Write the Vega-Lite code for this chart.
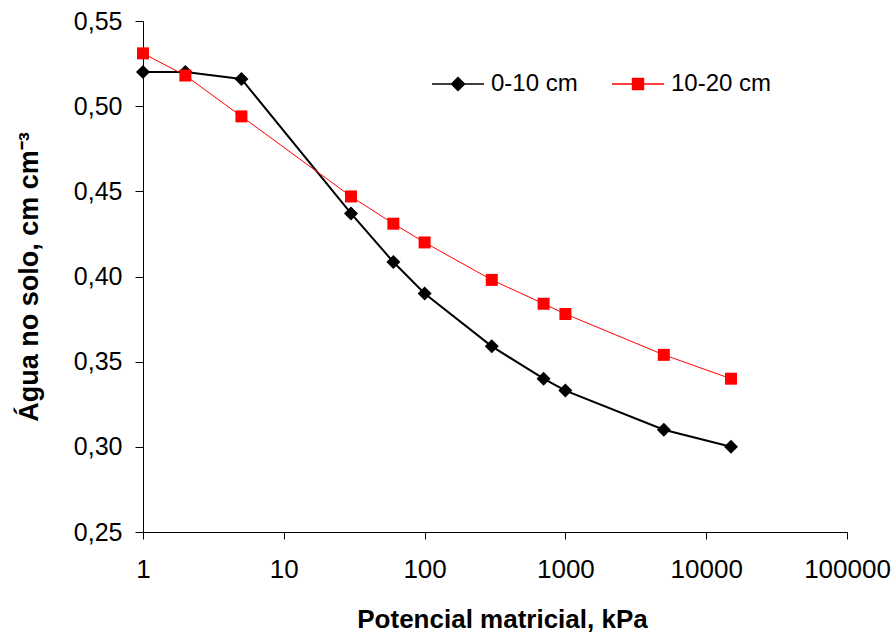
{
  "$schema": "https://vega.github.io/schema/vega-lite/v6.json",
  "width": 704,
  "height": 511,
  "autosize": "none",
  "padding": {"left": 143, "top": 21, "right": 47, "bottom": 101},
  "background": "white",
  "config": {"view": {"stroke": null}, "font": "Liberation Sans"},
  "data": {
    "values": [
      {"series": "0-10 cm", "kPa": 1, "agua": 0.520},
      {"series": "0-10 cm", "kPa": 2, "agua": 0.520},
      {"series": "0-10 cm", "kPa": 5, "agua": 0.516},
      {"series": "0-10 cm", "kPa": 30, "agua": 0.437},
      {"series": "0-10 cm", "kPa": 60, "agua": 0.4085},
      {"series": "0-10 cm", "kPa": 100, "agua": 0.390},
      {"series": "0-10 cm", "kPa": 300, "agua": 0.359},
      {"series": "0-10 cm", "kPa": 700, "agua": 0.340},
      {"series": "0-10 cm", "kPa": 1000, "agua": 0.333},
      {"series": "0-10 cm", "kPa": 5000, "agua": 0.310},
      {"series": "0-10 cm", "kPa": 15000, "agua": 0.300},
      {"series": "10-20 cm", "kPa": 1, "agua": 0.531},
      {"series": "10-20 cm", "kPa": 2, "agua": 0.518},
      {"series": "10-20 cm", "kPa": 5, "agua": 0.494},
      {"series": "10-20 cm", "kPa": 30, "agua": 0.447},
      {"series": "10-20 cm", "kPa": 60, "agua": 0.431},
      {"series": "10-20 cm", "kPa": 100, "agua": 0.420},
      {"series": "10-20 cm", "kPa": 300, "agua": 0.398},
      {"series": "10-20 cm", "kPa": 700, "agua": 0.384},
      {"series": "10-20 cm", "kPa": 1000, "agua": 0.378},
      {"series": "10-20 cm", "kPa": 5000, "agua": 0.354},
      {"series": "10-20 cm", "kPa": 15000, "agua": 0.340}
    ]
  },
  "encoding": {
    "x": {
      "field": "kPa",
      "type": "quantitative",
      "scale": {"type": "log", "domain": [1, 100000], "nice": false},
      "axis": {
        "values": [1, 10, 100, 1000, 10000, 100000],
        "format": "d",
        "grid": false,
        "domainColor": "#000000",
        "tickColor": "#000000",
        "tickSize": 7,
        "labelPadding": 17,
        "labelFontSize": 26,
        "labelColor": "#000000",
        "labelFlush": false,
        "labelOverlap": false,
        "title": "Potencial matricial, kPa",
        "titleFontSize": 26,
        "titleFontWeight": "bold",
        "titleColor": "#000000",
        "titleX": 359,
        "titleY": 87,
        "titleBaseline": "middle",
        "titleAlign": "center"
      }
    },
    "y": {
      "field": "agua",
      "type": "quantitative",
      "scale": {"domain": [0.25, 0.55], "nice": false, "zero": false},
      "axis": {
        "values": [0.25, 0.3, 0.35, 0.4, 0.45, 0.5, 0.55],
        "labelExpr": "replace(format(datum.value, '.2f'), '.', ',')",
        "grid": false,
        "domainColor": "#000000",
        "tickColor": "#000000",
        "tickSize": 8,
        "labelPadding": 13,
        "labelFontSize": 25,
        "labelColor": "#000000",
        "labelOverlap": false,
        "title": "Água no solo, cm cm⁻³",
        "titleFontSize": 27,
        "titleFontWeight": "bold",
        "titleColor": "#000000",
        "titleAngle": -90,
        "titleX": -114,
        "titleBaseline": "middle",
        "titleAlign": "center"
      }
    }
  },
  "layer": [
    {
      "transform": [{"filter": "datum.series === '0-10 cm'"}],
      "mark": {"type": "line", "clip": false, "color": "#000000", "strokeWidth": 2},
      "encoding": {}
    },
    {
      "transform": [{"filter": "datum.series === '10-20 cm'"}],
      "mark": {"type": "line", "clip": false, "color": "#ff0000", "strokeWidth": 1},
      "encoding": {}
    },
    {
      "transform": [{"filter": "datum.series === '0-10 cm'"}],
      "mark": {"type": "point", "filled": true, "opacity": 1, "shape": "diamond", "size": 196, "color": "#000000"},
      "encoding": {}
    },
    {
      "transform": [{"filter": "datum.series === '10-20 cm'"}],
      "mark": {"type": "point", "filled": true, "opacity": 1, "shape": "square", "size": 144, "color": "#ff0000"},
      "encoding": {}
    },
    {
      "mark": {"type": "point", "filled": true, "opacity": 1, "size": 0, "strokeWidth": 1.5},
      "encoding": {
        "fill": {
          "field": "series",
          "type": "nominal",
          "scale": {"domain": ["0-10 cm", "10-20 cm"], "range": ["#000000", "#ff0000"]},
          "legend": {
            "orient": "none",
            "legendX": 288,
            "legendY": 36,
            "direction": "horizontal",
            "title": null,
            "padding": 0,
            "labelFontSize": 24,
            "labelColor": "#000000",
            "labelOffset": 6,
            "columnPadding": 31,
            "symbolSize": 2704,
            "symbolStrokeWidth": 1.5,
            "symbolOpacity": 1
          }
        },
        "stroke": {
          "field": "series",
          "type": "nominal",
          "scale": {"domain": ["0-10 cm", "10-20 cm"], "range": ["#000000", "#ff0000"]},
          "legend": {"title": null}
        },
        "shape": {
          "field": "series",
          "type": "nominal",
          "scale": {"domain": ["0-10 cm", "10-20 cm"], "range": ["M-1,0H1M-0.25,0L0,-0.25L0.25,0L0,0.25Z", "M-1,0H1M-0.21,-0.21H0.21V0.21H-0.21Z"]},
          "legend": {"title": null}
        }
      }
    }
  ]
}
